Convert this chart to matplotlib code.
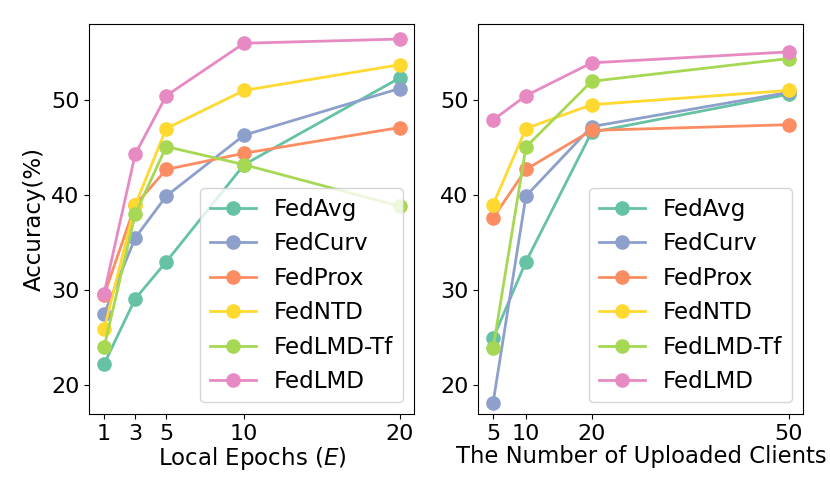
import matplotlib
matplotlib.use("Agg")
import matplotlib.pyplot as plt

methods = ["FedAvg", "FedCurv", "FedProx", "FedNTD", "FedLMD-Tf", "FedLMD"]
colors = ["#66c2a5", "#8da0cb", "#fc8d62", "#ffd92f", "#a6d854", "#e78ac3"]

epochs = [1, 3, 5, 10, 20]
acc_epochs = {
    "FedAvg":    [22.25, 29.1, 33.0, 43.2, 52.3],
    "FedCurv":   [27.5, 35.5, 39.9, 46.3, 51.2],
    "FedProx":   [29.5, 38.95, 42.7, 44.4, 47.1],
    "FedNTD":    [25.9, 38.95, 47.0, 51.0, 53.7],
    "FedLMD-Tf": [24.0, 38.0, 45.1, 43.2, 38.85],
    "FedLMD":    [29.65, 44.3, 50.45, 55.96, 56.4],
}

clients = [5, 10, 20, 50]
acc_clients = {
    "FedAvg":    [24.95, 33.0, 46.6, 50.6],
    "FedCurv":   [18.2, 39.9, 47.2, 50.8],
    "FedProx":   [37.6, 42.7, 46.8, 47.4],
    "FedNTD":    [39.0, 47.0, 49.5, 51.0],
    "FedLMD-Tf": [23.9, 45.05, 51.96, 54.35],
    "FedLMD":    [47.9, 50.45, 53.9, 55.05],
}

plt.rcParams["font.family"] = ["DejaVu Sans"]
plt.rcParams["font.size"] = 16

fig = plt.figure(figsize=(8.3, 4.98), dpi=100)
ax1 = fig.add_axes([0.1076, 0.1687, 0.3916, 0.7825])
ax2 = fig.add_axes([0.5763, 0.1687, 0.3916, 0.7825])

for m, c in zip(methods, colors):
    ax1.plot(epochs, acc_epochs[m], marker="o", color=c, label=m, lw=2, markersize=9.5)
    ax2.plot(clients, acc_clients[m], marker="o", color=c, label=m, lw=2, markersize=9.5)

for ax in (ax1, ax2):
    ax.set_ylim(17.0, 57.95)
    ax.set_yticks([20, 30, 40, 50])
    ax.tick_params(labelsize=16)
    ax.legend(loc="lower right", fontsize=16.6)

ax1.set_xticks(epochs)
ax2.set_xticks(clients)
ax1.set_xlabel("Local Epochs ($E$)", fontsize=16.5, labelpad=1)
ax2.set_xlabel("The Number of Uploaded Clients", fontsize=16.4, labelpad=1)
ax1.set_ylabel("Accuracy(%)", fontsize=16.5)

fig.savefig("out.png", dpi=100)
